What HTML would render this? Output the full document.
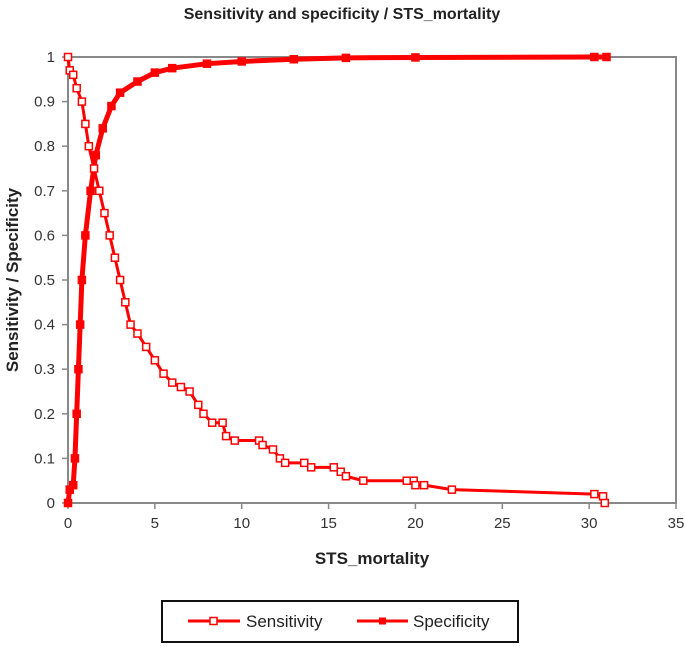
<!DOCTYPE html>
<html><head><meta charset="utf-8"><style>
body{margin:0;background:#fff;width:685px;height:646px;overflow:hidden;font-family:"Liberation Sans",sans-serif}
</style></head><body>
<svg id="chart" width="685" height="646">
<text x="342" y="19" text-anchor="middle" font-weight="bold" font-size="16" fill="#222">Sensitivity and specificity / STS_mortality</text>
<rect x="68" y="57" width="608" height="446" fill="none" stroke="#888" stroke-width="2"/>
<g id="axes"></g>
<g id="series"></g>
<text x="372" y="564" text-anchor="middle" font-weight="bold" font-size="17" fill="#222">STS_mortality</text>
<text transform="translate(18,280) rotate(-90)" text-anchor="middle" font-weight="bold" font-size="17" fill="#222">Sensitivity  / Specificity</text>
<g>
<rect x="162" y="601" width="356" height="41" fill="#fff" stroke="#111" stroke-width="2"/>
<g>
<line x1="188" y1="621" x2="240" y2="621" stroke="red" stroke-width="3"/>
<rect x="210" y="617.5" width="7" height="7" fill="#fff" stroke="red" stroke-width="1.5"/>
<text x="246" y="627" font-size="17" fill="#222">Sensitivity</text></g>
<g>
<line x1="357" y1="621" x2="408" y2="621" stroke="red" stroke-width="3"/>
<rect x="379" y="617.5" width="7" height="7" fill="red"/>
<text x="413" y="627" font-size="17" fill="#222">Specificity</text></g>
</g>
</svg>
<script>
const xTicks=[0,5,10,15,20,25,30,35];
const yTicks=[0,0.1,0.2,0.3,0.4,0.5,0.6,0.7,0.8,0.9,1];
const yTickLabels=["0","0.1","0.2","0.3","0.4","0.5","0.6","0.7","0.8","0.9","1"];
const sensX=[0,0.1,0.3,0.5,0.8,1,1.2,1.5,1.8,2.1,2.4,2.7,3,3.3,3.6,4,4.5,5,5.5,6,6.5,7,7.5,7.8,8.3,8.9,9.1,9.6,11,11.2,11.8,12.2,12.5,13.6,14,15.3,15.7,16,17,19.5,19.9,20,20.5,22.1,30.3,30.8,30.9];
const sensY=[1,0.97,0.96,0.93,0.9,0.85,0.8,0.75,0.7,0.65,0.6,0.55,0.5,0.45,0.4,0.38,0.35,0.32,0.29,0.27,0.26,0.25,0.22,0.2,0.18,0.18,0.15,0.14,0.14,0.13,0.12,0.1,0.09,0.09,0.08,0.08,0.07,0.06,0.05,0.05,0.05,0.04,0.04,0.03,0.02,0.015,0];
const specX=[0,0.1,0.3,0.4,0.5,0.6,0.7,0.8,1,1.3,1.6,2,2.5,3,4,5,6,8,10,13,16,20,30.3,31];
const specY=[0,0.03,0.04,0.1,0.2,0.3,0.4,0.5,0.6,0.7,0.78,0.84,0.89,0.92,0.945,0.965,0.975,0.985,0.99,0.995,0.998,0.999,1,1];
const NS='http://www.w3.org/2000/svg';
const X=v=>68+v*(608/35), Y=v=>503-v*446;
const axes=document.getElementById('axes'), ser=document.getElementById('series');
function mk(t,a,p){const e=document.createElementNS(NS,t);for(const k in a)e.setAttribute(k,a[k]);p.appendChild(e);return e;}
xTicks.forEach(t=>{
 mk('line',{x1:X(t),x2:X(t),y1:503,y2:509,stroke:'#888','stroke-width':1.5},axes);
 const tx=mk('text',{x:X(t),y:528,'text-anchor':'middle','font-size':15,fill:'#333'},axes);tx.textContent=t;
 
 
});
yTicks.forEach((t,i)=>{
 mk('line',{x1:62,x2:68,y1:Y(t),y2:Y(t),stroke:'#888','stroke-width':1.5},axes);
 const tx=mk('text',{x:55,y:Y(t)+5,'text-anchor':'end','font-size':15,fill:'#333'},axes);tx.textContent=yTickLabels[i];
 
 
});
function series(xs,ys,filled,name,w){
 const pl=mk('polyline',{points:xs.map((x,i)=>X(x)+','+Y(ys[i])).join(' '),fill:'none',stroke:'red','stroke-width':w},ser);
 
 
 xs.forEach((x,i)=>{
  const r=mk('rect',{x:X(x)-3.5,y:Y(ys[i])-3.5,width:7,height:7,fill:filled?'red':'#fff',stroke:'red','stroke-width':1.5},ser);
  
  
 });
}
series(specX,specY,true,'specificity',5);
series(sensX,sensY,false,'sensitivity',3);
</script>
</body></html>
